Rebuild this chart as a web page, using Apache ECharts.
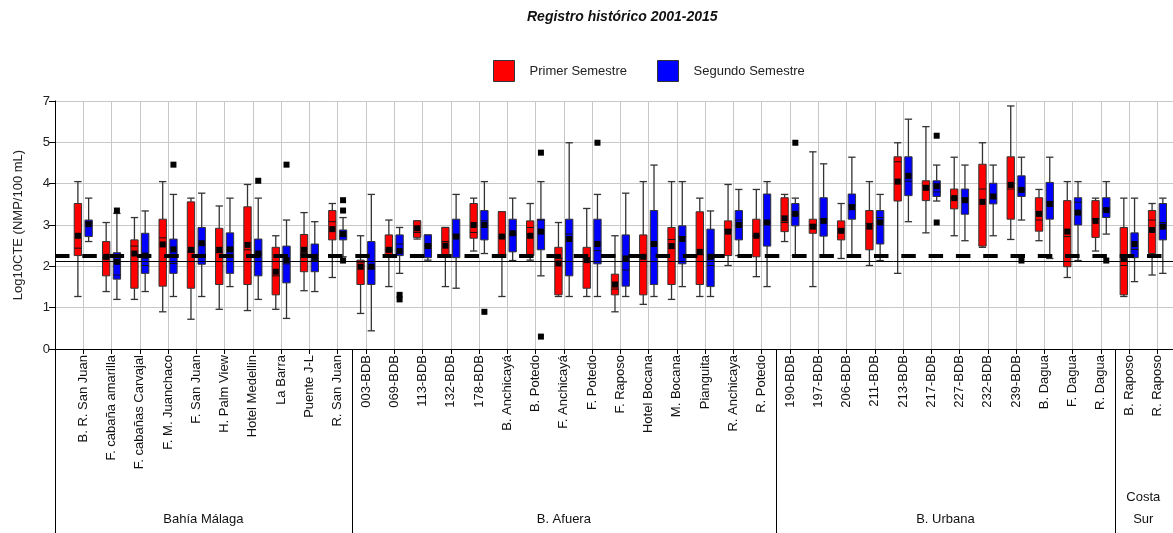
<!DOCTYPE html>
<html><head><meta charset="utf-8">
<script src="https://cdn.jsdelivr.net/npm/echarts@6/dist/echarts.min.js"></script>
<style>html,body{margin:0;padding:0;background:#fff}#c{width:1173px;height:533px}</style>
</head><body><div id="c"></div>
<script>
// ---- data ----
const stations = ['B. R. San Juan','F. cabaña amarilla','F. cabañas Carvajal','F. M. Juanchaco','F. San Juan','H. Palm View','Hotel Medellin','La Barra','Puente J-L','R. San Juan',
  '003-BDB','069-BDB','113-BDB','132-BDB','178-BDB','B. Anchicayá','B. Potedo','F. Anchicayá','F. Potedo','F. Raposo','Hotel Bocana','M. Bocana','Pianguita','R. Anchicaya','R. Potedo',
  '190-BDB','197-BDB','206-BDB','211-BDB','213-BDB','217-BDB','227-BDB','232-BDB','239-BDB','B. Dagua','F. Dagua','R. Dagua',
  'B. Raposo','R. Raposo'];
const groupNames = ['Bahía Málaga','B. Afuera','B. Urbana','Costa\nSur'];
const groupSizes = [10, 15, 12, 2];
const yTickLabels = ['0','1','2','3','4','5','7'];
// [min, Q1, median, Q3, max]
const primer = [
  [1.27,2.26,2.44,3.52,4.05],[1.39,1.77,2.22,2.60,3.06],[1.20,1.47,2.49,2.64,3.18],[0.90,1.52,2.69,3.14,4.05],[0.72,1.47,2.35,3.56,3.65],
  [0.96,1.56,2.33,2.92,3.46],[0.93,1.56,2.40,3.44,3.98],[0.96,1.31,1.77,2.46,2.74],[1.41,1.87,2.31,2.77,3.30],[1.73,2.64,3.08,3.35,3.52],
  [0.86,1.56,2.10,2.15,2.74],[1.51,2.26,2.40,2.76,3.12],[2.66,2.70,2.82,3.10,3.10],[1.51,2.27,2.60,2.94,2.94],[2.37,2.68,2.82,3.52,3.65],
  [1.27,2.26,2.72,3.32,3.32],[2.15,2.26,2.94,3.10,3.52],[1.27,1.31,2.19,2.46,3.06],[1.27,1.47,2.20,2.46,3.40],[0.90,1.31,1.45,1.81,2.74],
  [1.08,1.31,2.25,2.76,4.05],[1.20,1.56,2.65,2.94,4.05],[1.27,1.56,2.28,3.32,3.65],[2.02,2.26,2.88,3.10,3.98],[1.75,2.23,2.74,3.14,3.86],
  [2.60,2.84,3.06,3.66,3.74],[1.51,2.80,3.00,3.14,4.77],[2.19,2.64,2.88,3.10,3.52],[2.02,2.40,3.04,3.35,4.05],[1.83,3.58,4.53,4.65,4.99],
  [2.81,3.59,3.95,4.07,5.38],[2.74,3.39,3.65,3.87,4.64],[2.46,2.49,3.87,4.47,4.99],[2.65,3.14,3.87,4.65,5.88],[2.62,2.85,3.12,3.66,3.86],
  [1.73,1.99,2.72,3.59,4.05],[2.37,2.70,3.15,3.59,3.65],[1.27,1.31,2.02,2.94,3.65],[1.79,2.31,3.12,3.35,3.52]
];
const primerMean = [2.74,2.23,2.31,2.53,2.40,2.40,2.52,1.87,2.40,2.90,1.99,2.40,2.92,2.50,3.00,2.72,2.74,2.07,2.15,1.56,
  2.23,2.49,2.35,2.84,2.74,3.16,2.96,2.86,2.96,4.05,3.90,3.65,3.56,3.97,3.27,2.84,3.10,2.19,2.88];
const segundo = [
  [2.60,2.72,3.05,3.12,3.65],[1.20,1.69,1.79,2.33,3.28],[1.39,1.83,2.02,2.80,3.34],[1.27,1.83,2.07,2.66,3.74],[1.27,2.05,2.54,2.94,3.77],
  [1.51,1.83,2.40,2.81,3.65],[1.20,1.77,2.30,2.66,3.65],[0.74,1.60,2.06,2.49,3.12],[1.39,1.87,2.14,2.54,3.08],[2.23,2.64,2.74,2.88,3.18],
  [0.44,1.56,1.95,2.60,3.74],[1.83,2.26,2.54,2.76,2.94],[2.15,2.21,2.50,2.76,2.76],[1.47,2.21,2.75,3.14,3.74],[2.31,2.64,3.10,3.35,4.05],
  [2.14,2.35,2.78,3.14,3.65],[1.77,2.40,3.12,3.14,4.05],[1.27,1.77,2.78,3.14,4.99],[1.27,2.06,2.38,3.14,3.74],[1.27,1.52,1.91,2.76,3.77],
  [1.27,1.56,2.55,3.35,4.45],[1.51,2.06,2.72,2.98,4.05],[1.27,1.51,2.02,2.90,3.34],[2.26,2.64,3.12,3.35,3.86],[1.51,2.49,3.06,3.75,4.05],
  [2.26,2.98,3.25,3.52,3.65],[2.26,2.73,3.15,3.66,4.48],[2.26,3.14,3.48,3.75,4.64],[2.14,2.54,3.18,3.35,3.74],[3.08,3.71,4.06,4.65,5.56],
  [3.58,3.69,3.80,4.07,4.45],[2.62,3.26,3.65,3.87,4.45],[2.74,3.51,3.65,4.01,4.45],[3.12,3.69,3.85,4.19,4.64],[2.19,3.14,3.55,4.03,4.64],
  [2.14,3.00,3.55,3.66,4.05],[2.78,3.18,3.40,3.66,4.05],[1.63,2.21,2.41,2.81,3.65],[1.83,2.64,3.06,3.52,3.65]
];
const segundoMean = [3.02,2.11,2.26,2.41,2.56,2.41,2.31,2.15,2.23,2.78,1.99,2.37,2.49,2.72,3.00,2.80,2.84,2.66,2.54,2.19,
  2.54,2.66,2.23,3.00,3.06,3.27,3.10,3.43,3.06,4.19,3.94,3.60,3.69,3.85,3.51,3.30,3.36,2.54,2.96];
// outliers: [station index, value]
const segundoOutliers = [[1,3.35],[3,4.46],[6,4.07],[7,4.46],[9,3.60],[9,3.35],[9,2.14],[11,1.31],[11,1.20],[14,0.90],
  [16,4.75],[16,0.30],[18,4.99],[25,4.99],[30,5.16],[30,3.06],[33,2.14],[36,2.14]];
const dashedRef = 2.255;
const solidRef = 2.13;

// ---- styling constants ----
const RED = '#ff0000', BLUE = '#0000ff';
const OFFSET = 0.19, BOXW = 0.26;
const FONT = 'Liberation Sans, Arial, sans-serif';

function boxRenderer(side, color) {
  return function (params, api) {
    const i = api.value(0);
    const band = api.size([1, 0])[0];
    const x = api.coord([i, 0])[0] + side * band * OFFSET;
    const hw = band * BOXW / 2;
    const y = k => api.coord([i, api.value(k)])[1];
    const yMin = y(1), yQ1 = y(2), yMed = y(3), yQ3 = y(4), yMax = y(5), yMean = y(6);
    const ws = {stroke: '#333', lineWidth: 1.3};
    return {type: 'group', children: [
      {type: 'line', shape: {x1: x, y1: yMax, x2: x, y2: yQ3}, style: ws},
      {type: 'line', shape: {x1: x, y1: yQ1, x2: x, y2: yMin}, style: ws},
      {type: 'line', shape: {x1: x - hw, y1: yMax, x2: x + hw, y2: yMax}, style: ws},
      {type: 'line', shape: {x1: x - hw, y1: yMin, x2: x + hw, y2: yMin}, style: ws},
      {type: 'rect', shape: {x: x - hw, y: yQ3, width: 2 * hw, height: yQ1 - yQ3}, style: {fill: color, stroke: '#333', lineWidth: 1}},
      {type: 'line', shape: {x1: x - hw, y1: yMed, x2: x + hw, y2: yMed}, style: {stroke: '#111', lineWidth: 1}},
      {type: 'rect', shape: {x: x - 3, y: yMean - 3, width: 6, height: 6}, style: {fill: '#000'}}
    ]};
  };
}
function outlierRenderer(side) {
  return function (params, api) {
    const band = api.size([1, 0])[0];
    const p = api.coord([api.value(0), api.value(1)]);
    const x = p[0] + side * band * OFFSET;
    return {type: 'rect', shape: {x: x - 3, y: p[1] - 3, width: 6, height: 6}, style: {fill: '#000'}};
  };
}

// group boundaries and centres (in category index units)
const X_MIN = -1, X_MAX = 38.55;
const bounds = [X_MIN];
let acc = -0.5;
groupSizes.forEach(n => { acc += n; bounds.push(acc); });
const centres = groupNames.map((g, k) => (bounds[k] + Math.min(bounds[k + 1], X_MAX)) / 2);
const separators = bounds.slice(0, bounds.length - 1);

const chart = echarts.init(document.getElementById('c'), null, {renderer: 'canvas'});
chart.setOption({
  animation: false,
  backgroundColor: '#fff',
  textStyle: {fontFamily: FONT},
  title: {
    text: 'Registro histórico 2001-2015', left: 527, top: 10, padding: 0,
    textStyle: {fontSize: 14, fontStyle: 'italic', fontWeight: 'bold', color: '#111', fontFamily: FONT}
  },
  legend: {
    data: ['Primer Semestre', 'Segundo Semestre'], left: 493, top: 60, padding: 0,
    icon: 'rect', itemWidth: 21, itemHeight: 21, itemGap: 30,
    itemStyle: {borderColor: '#333', borderWidth: 1},
    textStyle: {fontSize: 13, color: '#222', padding: [0, 0, 0, 10], fontFamily: FONT}
  },
  grid: {left: 55, right: 0, top: 101, bottom: 184, containLabel: false},
  xAxis: [{
    type: 'value', min: X_MIN, max: X_MAX, interval: 1,
    axisLine: {show: true, onZero: false, lineStyle: {color: '#000', width: 1}},
    axisTick: {show: true, length: 5, lineStyle: {color: '#000'}},
    splitLine: {show: true, lineStyle: {color: '#c8c8c8', width: 1}},
    axisLabel: {rotate: 90, fontSize: 13, color: '#111', margin: 6, fontFamily: FONT,
      formatter: v => (Number.isInteger(v) && stations[v] !== undefined) ? stations[v] : ''}
  }, {
    type: 'value', min: X_MIN, max: X_MAX, position: 'bottom',
    axisLine: {show: false, onZero: false},
    splitLine: {show: false},
    axisTick: {show: true, customValues: separators, length: 184, lineStyle: {color: '#000', width: 1}},
    axisLabel: {customValues: centres, margin: 181, verticalAlign: 'bottom', fontSize: 13, lineHeight: 22, color: '#111', fontFamily: FONT,
      formatter: v => { const k = centres.indexOf(v); return k >= 0 ? groupNames[k] : ''; }}
  }],
  yAxis: {
    type: 'value', min: 0, max: 6, interval: 1,
    name: 'Log10CTE (NMP/100 mL)', nameLocation: 'middle', nameGap: 30,
    nameTextStyle: {fontSize: 13, color: '#222', fontFamily: FONT},
    axisLine: {show: true, onZero: false, lineStyle: {color: '#000', width: 1}},
    axisTick: {show: true, length: 6, lineStyle: {color: '#000'}},
    splitLine: {show: true, lineStyle: {color: '#c8c8c8', width: 1}},
    axisLabel: {fontSize: 13, color: '#222', margin: 5, fontFamily: FONT, formatter: v => yTickLabels[v]}
  },
  series: [{
    name: 'Primer Semestre', type: 'custom', z: 2,
    itemStyle: {color: RED},
    renderItem: boxRenderer(-1, RED),
    encode: {x: 0, y: [1, 2, 3, 4, 5, 6]},
    data: primer.map((b, i) => [i, ...b, primerMean[i]])
  }, {
    name: 'Segundo Semestre', type: 'custom', z: 2,
    itemStyle: {color: BLUE},
    renderItem: boxRenderer(1, BLUE),
    encode: {x: 0, y: [1, 2, 3, 4, 5, 6]},
    data: segundo.map((b, i) => [i, ...b, segundoMean[i]])
  }, {
    name: 'Atípicos', type: 'custom', z: 5,
    renderItem: outlierRenderer(1),
    encode: {x: 0, y: 1},
    data: segundoOutliers,
    markLine: {
      silent: true, symbol: ['none', 'none'], label: {show: false}, animation: false,
      data: [
        {yAxis: dashedRef, lineStyle: {color: '#000', width: 4, type: [14.5, 12.8]}},
        {yAxis: solidRef, lineStyle: {color: '#000', width: 1, type: 'solid'}}
      ]
    }
  }]
});
</script></body></html>
